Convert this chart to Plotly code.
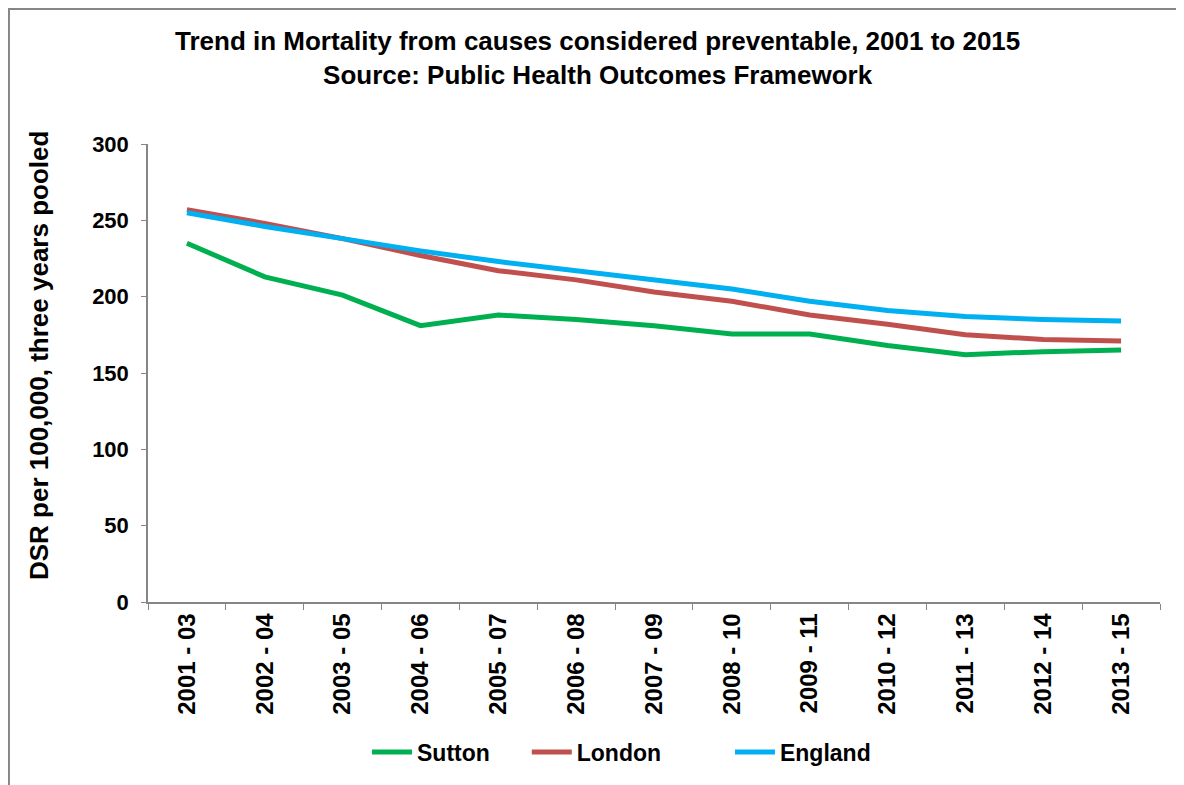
import plotly.graph_objects as go

periods = ["2001 - 03", "2002 - 04", "2003 - 05", "2004 - 06", "2005 - 07", "2006 - 08",
           "2007 - 09", "2008 - 10", "2009 - 11", "2010 - 12", "2011 - 13", "2012 - 14", "2013 - 15"]
sutton = [235, 213, 201, 181, 188, 185, 181, 175.5, 175.5, 168, 162, 164, 165]
london = [257, 248, 238, 227, 217, 211, 203, 197, 188, 182, 175, 172, 171]
england = [255, 246, 238, 230, 223, 217, 211, 205, 197, 191, 187, 185, 184]

FONT = "Liberation Sans, Arial, sans-serif"
NB = "\u00a0"

fig = go.Figure()
for name, vals, col, pad in [("Sutton", sutton, "#00B050", 5),
                             ("London", london, "#C0504D", 10),
                             ("England", england, "#00B0F0", 0)]:
    fig.add_trace(go.Scatter(
        x=periods, y=vals, name="<b>" + name + "</b>" + NB * pad, mode="lines",
        line=dict(color=col, width=5)
    ))

fig.update_layout(
    width=1184, height=785,
    margin=dict(l=140, r=32, t=136, b=191),
    paper_bgcolor="white", plot_bgcolor="white",
    font=dict(family=FONT, size=18, color="black"),
    title=dict(
        text="<b>Trend in Mortality from causes considered preventable, 2001 to 2015<br>Source: Public Health Outcomes Framework</b>",
        x=0.498, xanchor="center", y=0.946, yanchor="middle",
        font=dict(family=FONT, size=26, color="black")
    ),
    showlegend=True,
    legend=dict(orientation="h", x=0.2164, xanchor="left", y=-0.3275, yanchor="middle",
                font=dict(family=FONT, size=23), itemwidth=40, tracegroupgap=0),
)
fig.update_xaxes(
    range=[-0.5, 12.5], showline=True, linecolor="#868686", linewidth=1.5,
    ticks="outside", tickson="boundaries", ticklen=6, tickcolor="#868686",
    tickangle=-90, tickfont=dict(family=FONT, size=24), showgrid=False,
    tickprefix="<b>", ticksuffix="</b>"
)
fig.update_yaxes(
    range=[0, 300], dtick=50, showline=True, linecolor="#868686", linewidth=1.5,
    ticks="outside", ticklen=5, tickcolor="#868686", showgrid=False, zeroline=False,
    tickfont=dict(family=FONT, size=22), ticklabelstandoff=8,
    tickprefix="<b>", ticksuffix="</b>"
)

# y axis title placed as annotation (sits a little above the plot centre in the original)
fig.add_annotation(
    text="<b>DSR per 100,000, three years pooled</b>", textangle=-90,
    xref="paper", yref="paper", x=-0.1245, y=0.537, showarrow=False,
    font=dict(family=FONT, size=26, color="black")
)

fig.add_shape(type="rect", xref="paper", yref="paper",
              x0=-0.1374, x1=1.05, y0=-0.45, y1=1.2948,
              line=dict(color="#868686", width=2), fillcolor="rgba(0,0,0,0)", layer="below")

fig.write_html("out.html")
